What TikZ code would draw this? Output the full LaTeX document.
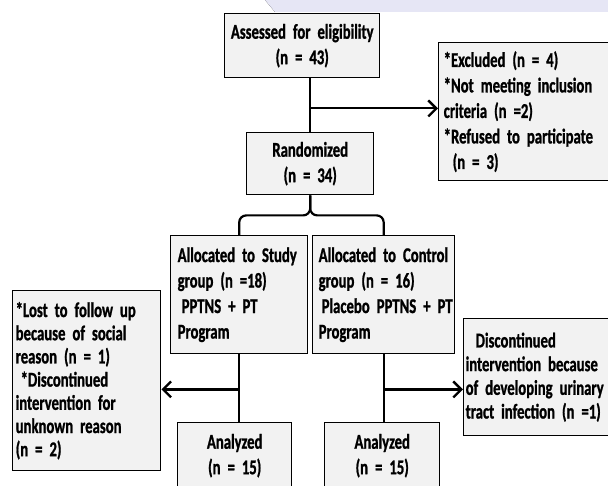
\documentclass[tikz,border=0pt]{standalone}
\usepackage{fontspec}
\setmainfont{Carlito}[FakeStretch=0.70, BoldFeatures={FakeBold=1}]
\usetikzlibrary{arrows.meta,calc}
\definecolor{boxgray}{HTML}{F2F2F2}
\definecolor{mark}{HTML}{E6E6F5}
\newcommand{\boxfont}[1]{\bfseries\fontsize{21}{#1}\selectfont
	\fontdimen2\font=2.2pt\fontdimen3\font=0pt\hyphenpenalty=10000\relax}
\tikzset{
	box/.style={draw, line width=1.4pt, fill=boxgray, inner ysep=0pt,
		align=left, anchor=north west, font=\boxfont{25.5}},
	cbox/.style={box, align=center},
	link/.style={line width=2.2pt},
	arr/.style={link, -{Straight Barb[length=8pt,width=16pt,line width=2.4pt]}}
}

\begin{document}
\begin{tikzpicture}[x=1pt,y=-1pt]
		\useasboundingbox (0,0) rectangle (608,486);
		% faint band at the top edge
		\fill [left color=mark, middle color=white, right color=mark]
			(265,0) -- (608,0) -- (608,12) -- (275,12) -- cycle;
		\node [cbox, inner xsep=4pt, text width=147pt, minimum height=64pt] (AS) at (224,13)
			{Assessed~for~eligibility\\(n~=~43)};
		\node [box, inner xsep=5pt, text width=164pt, minimum height=138pt] (EX) at (438,42)
			{*Excluded~(n~=~4)\\{*}Not~meeting~inclusion\\criteria~(n~=2)\\{*}Refused~to~participate\\\hspace*{9pt}(n~=~3)};
		\node [cbox, inner xsep=4pt, text width=119pt, minimum height=62pt] (RA) at (246,132)
			{Randomized\\(n~=~34)};
		\node [box, inner xsep=7pt, text width=123pt, minimum height=118pt] (ST) at (170,235)
			{Allocated~to~Study\\group~(n~=18)\\\hspace*{4pt}PPTNS~+~PT\\Program};
		\node [box, inner xsep=6pt, text width=130pt, minimum height=118pt] (CO) at (312,235)
			{Allocated~to~Control\\group~(n~=~16)\\\hspace*{3pt}Placebo~PPTNS~+~PT\\Program};
		\node [box, inner xsep=3pt, text width=142pt, minimum height=180pt,
			font=\boxfont{23.2}] (LO) at (12,290)
			{*Lost~to~follow~up\\because~of~social\\reason~(n~=~1)\\\hspace*{5pt}*Discontinued\\intervention~for\\unknown~reason\\(n~=~2)};
		\node [box, inner xsep=2pt, text width=146pt, minimum height=117pt,
			font=\boxfont{23.7}] (DI) at (463,318)
			{\hspace*{10pt}Discontinued\\intervention~because\\of~developing~urinary\\tract~infection~(n~=1)};
		\node [cbox, inner xsep=4pt, text width=106pt, minimum height=66pt] (AN1) at (177,422)
			{Analyzed\\(n~=~15)};
		\node [cbox, inner xsep=4pt, text width=107pt, minimum height=66pt] (AN2) at (324,422)
			{Analyzed\\(n~=~15)};
		% eligibility to randomization
		\draw [link] (RA.north |- AS.south) to (RA.north);
		\coordinate (J1) at ($(RA.north |- AS.south)+(0,30)$);
		\draw [arr] (J1) to (J1 -| EX.west);
		% split into the two groups
		\draw [link, rounded corners=7pt] (RA.south) -- ($(RA.south)+(0,20)$) -| (ST.north);
		\draw [link, rounded corners=7pt] (RA.south) -- ($(RA.south)+(0,20)$) -| (CO.north);
		% follow up
		\draw [link] (ST.south) to (ST.south |- AN1.north);
		\coordinate (J2) at ($(ST.south)+(0,35)$);
		\draw [arr] (J2) to (J2 -| LO.east);
		\draw [link] (CO.south) to (CO.south |- AN2.north);
		\coordinate (J3) at ($(CO.south)+(0,35)$);
		\draw [arr] (J3) to (J3 -| DI.west);
	\end{tikzpicture}
\end{document}
